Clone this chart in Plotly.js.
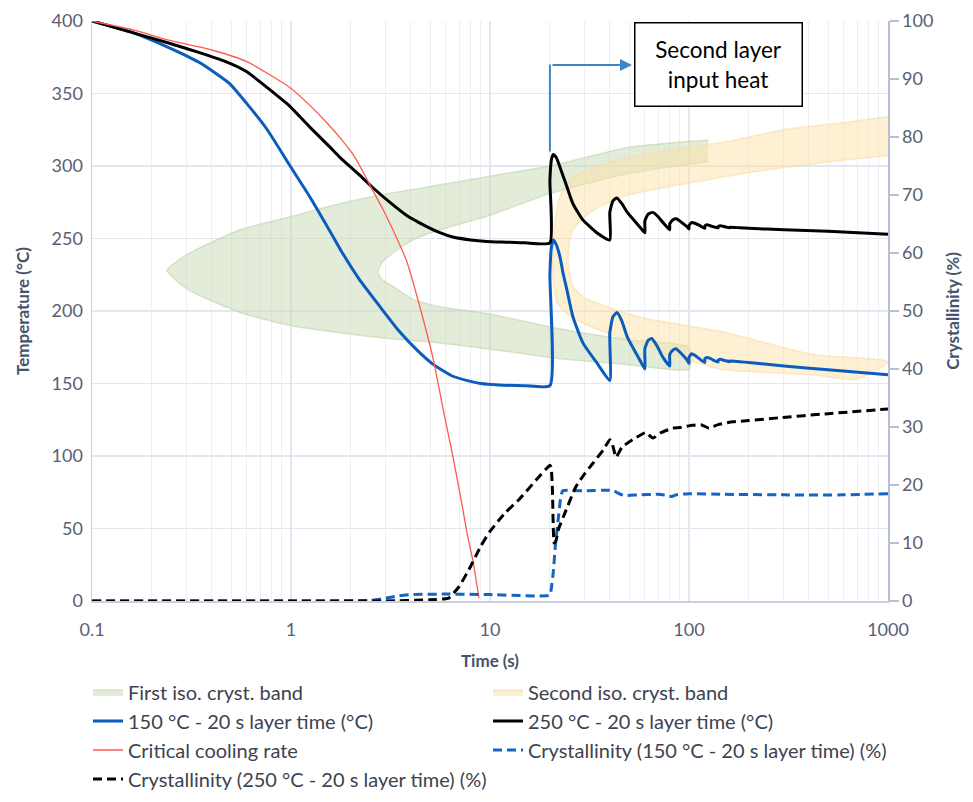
<!DOCTYPE html>
<html>
<head>
<meta charset="utf-8">
<script src="https://cdn.plot.ly/plotly-3.0.1.min.js"></script>
<style>
html,body{margin:0;padding:0;background:#fff;}
#chart{width:973px;height:802px;}
</style>
</head>
<body>
<div id="chart"></div>
<script>
// ---------- Data ----------
// Time (s)
const tTemp150 = [0.1,0.16,0.24,0.35,0.49,0.6,0.76,0.99,1.24,1.57,1.76,2.2,2.8,3.5,4.3,5.2,6.5,7.7,9,11,15,20,
  20,20.4,20.8,21.5,22.5,23.3,24.4,26.1,29.3,34.5,40,
  40,41.5,43.5,46,49,56.7,60,
  60,62.5,65,69,74,80,
  80,83,86,91,98,100,
  100,103,107,113,120,
  120,123,127,133,140,
  140,144,148,155,160,
  160,170,180,200,300,500,1000];
const temp150 = [400,392,382,371,357,343,325,300,279,255,243,222,203,186,173,163,155,152,150,149,148.5,148.5,
  225,245,249,246,237,226,214,196,178,164,152,
  185,196,199,193,182,166,160,
  174,180,181,176,168,162,
  170,173,174,171,166,164,
  168,170.5,169.5,167,164.5,
  167,168,167.5,166,164.8,
  166,166.8,166.2,165.5,165,
  165.6,165.3,165,164.5,162,159.5,156];

const tTemp250 = [0.1,0.16,0.24,0.35,0.49,0.6,0.76,0.99,1.24,1.57,1.76,2.2,2.58,3.2,3.8,4.4,5.6,6.5,8,9.6,12,15,20,
  20,20.4,20.8,21.5,22.5,24.3,26.1,29.2,34.4,40,
  40,41.5,43.4,46,49,56.6,60,
  60,62.5,65.8,70,74,80,
  80,83,87,92,98,100,
  100,103,107,113,120,
  120,123,127,133,140,
  140,144,148,155,160,
  160,170,180,200,300,500,1000];
const temp250 = [400,392,385,378,371,365,354,341,327,313,306,294,285,274,266,261,254,251,249,248,247.5,247,247,
  290,305,308,306,299,286,274,263,254,249,
  268,276,278,274,268,258,254,
  262,267,268,265,261,256,
  260,263,263.5,261,258,256.5,
  259,261,260.5,259,257,
  258.5,259.5,259,258,257.3,
  258.2,258.8,258.4,257.8,257.4,
  257.8,257.6,257.4,257,256,255,253];

const tCritical = [0.1,0.16,0.24,0.4,0.6,0.99,1.24,1.51,1.8,2.05,2.3,2.58,2.9,3.25,3.8,4.4,5.2,5.8,6.5,7.2,7.66,8.2,8.8];
const tempCritical = [400,394,387,380,372,354,342,330,318,308,296,283,270,256,235,205,166,133,100,68,47,28,2];

const tCryst150 = [0.1,1,2.5,3,3.5,4,6,10,20,20.3,20.8,21.3,22,22.6,23.2,30,40,42,44,47,55,70,78,82,86,100,150,300,600,1000];
const cryst150 = [0,0,0.1,0.5,0.9,1.1,1.2,1.1,1.0,2,5,9.5,14,17.5,19,19,19.1,19,18.6,18.2,18.3,18.4,18.2,18.0,18.3,18.5,18.4,18.3,18.3,18.5];

const tCryst250 = [0.1,1,3,5,6.2,7,8,9,10,11,12,14,17,20,20.3,20.6,21,21.5,22,24,27,30,33,37,40,41,43,46,52,61,63,66,72,83,90,104,115,126,140,166,200,285,500,1000];
const cryst250 = [0,0,0,0.2,0.5,2.5,6,9.5,12,13.8,15.3,17.5,20.8,23.4,23,19,10,10.5,12.2,15.5,19.7,22,23.8,26,27.8,27.3,24.8,26.5,27.8,29.1,28.6,28.1,29,29.8,29.9,30.3,30.4,29.8,30.4,30.9,31.1,31.6,32.3,33.1];

// First isothermal crystallisation band: outer edge (upper end -> nose -> lower end), inner edge (lower end -> nose -> upper end)
const band1OuterT = [125,100,50,20,10,5.6,3.1,1.76,0.99,0.555,0.31,0.26,0.238,0.26,0.31,0.555,0.99,1.76,3.1,5.6,11,20,50,100];
const band1OuterTemp = [318,317,313,300,293,287,281,274,265,256,240,233,228,222,214,199,190,185,181,178,173,168,163,160];
const band1InnerT = [100,50,20,10,5.6,4.1,3.25,2.85,2.74,2.85,3.25,4.1,5.6,10,20,50,125];
const band1InnerTemp = [175,180,189,198,203,208,217,222,227,233,240,249,256,266,281,295,303];

// Second isothermal crystallisation band
const band2OuterT = [1000,600,300,143,80,38.7,26.1,22.5,21.2,20.8,20.6,20.8,21.2,21.7,24.4,30,38.7,60,143,420,700];
const band2OuterTemp = [334,330,325,316,311,302,292,279,261,245,232,220,212,206,198,191,185,176,160,156,153];
const band2InnerT = [1000,420,143,60,38.7,30,26.1,25,24.7,25,26.1,31.8,46.6,143,300,600,1000];
const band2InnerTemp = [165,170,186,195,203,209,217,227,237,246,256,268,279,292,299,304,307];

// Tick labels
const xTickVals = [0.1,1,10,100,1000];
const xTickText = ['0.1','1','10','100','1000'];

// Legend names
const seriesNames = [
  'First iso. cryst. band',
  'Second iso. cryst. band',
  '150 °C - 20 s layer time (°C)',
  '250 °C - 20 s layer time (°C)',
  'Critical cooling rate',
  'Crystallinity (150 °C - 20 s layer time) (%)',
  'Crystallinity (250 °C - 20 s layer time) (%)'
];

// ---------- Traces ----------
const blue = '#0b5cbd';
const traces = [
  {x: band1OuterT.concat(band1InnerT), y: band1OuterTemp.concat(band1InnerTemp),
   type:'scatter', mode:'lines', fill:'toself', name:seriesNames[0],
   fillcolor:'rgba(199,217,179,0.5)', line:{color:'rgba(190,212,170,0.55)', width:1.5, shape:'spline', smoothing:0.6}},
  {x: band2OuterT.concat(band2InnerT), y: band2OuterTemp.concat(band2InnerTemp),
   type:'scatter', mode:'lines', fill:'toself', name:seriesNames[1],
   fillcolor:'rgba(252,226,168,0.5)', line:{color:'rgba(250,220,160,0.55)', width:1.5, shape:'spline', smoothing:0.6}},
  {x: tTemp150, y: temp150, type:'scatter', mode:'lines', name:seriesNames[2],
   line:{color:blue, width:3, shape:'spline', smoothing:0.5}},
  {x: tTemp250, y: temp250, type:'scatter', mode:'lines', name:seriesNames[3],
   line:{color:'#000000', width:3, shape:'spline', smoothing:0.5}},
  {x: tCritical, y: tempCritical, type:'scatter', mode:'lines', name:seriesNames[4],
   line:{color:'#ff5a4f', width:1.3, shape:'spline', smoothing:0.5}},
  {x: tCryst150, y: cryst150, type:'scatter', mode:'lines', name:seriesNames[5],
   yaxis:'y2', line:{color:'#1464c4', width:3, dash:'9px,5px', shape:'spline', smoothing:0.4}},
  {x: tCryst250, y: cryst250, type:'scatter', mode:'lines', name:seriesNames[6],
   yaxis:'y2', line:{color:'#000000', width:3, dash:'9px,5px', shape:'spline', smoothing:0.4}}
];

const fontFam = 'Lato, "Open Sans", sans-serif';
const tickCol = '#586074';
const titleCol = '#44546a';
const gridCol = '#e4e7f0';

const layout = {
  width:973, height:802,
  margin:{l:92, r:85, t:21, b:201},
  paper_bgcolor:'#ffffff', plot_bgcolor:'#ffffff',
  font:{family:fontFam, color:tickCol, size:18},
  showlegend:true,
  xaxis:{
    type:'log', range:[-1,3],
    tickvals:xTickVals, ticktext:xTickText,
    showgrid:true, gridcolor:gridCol, gridwidth:1.2,
    minor:{dtick:'D1', showgrid:true, gridcolor:'#edeff5', gridwidth:1},
    showline:true, linecolor:'#c9cfe0', linewidth:1.5,
    zeroline:false, ticks:'', ticklabelstandoff:12,
    tickfont:{size:18, color:tickCol},
    title:{text:'<b>Time (s)</b>', font:{size:17, color:titleCol}, standoff:16}
  },
  yaxis:{
    range:[0,400], dtick:50,
    showgrid:true, gridcolor:gridCol, gridwidth:1.2,
    showline:true, linecolor:'#c9cfe0', linewidth:1.5,
    zeroline:false, ticks:'', ticklabelstandoff:4,
    tickfont:{size:18, color:tickCol},
    title:{text:'<b>Temperature (°C)</b>', font:{size:17, color:titleCol}, standoff:17}
  },
  yaxis2:{
    overlaying:'y', side:'right', range:[0,100], dtick:10,
    showgrid:false, zeroline:false,
    showline:true, linecolor:'#b7bfd2', linewidth:1.5,
    ticks:'outside', ticklen:9, tickcolor:'#b7bfd2', tickwidth:1.5,
    tickfont:{size:18, color:tickCol},
    title:{text:'<b>Crystallinity (%)</b>', font:{size:17, color:titleCol}, standoff:14}
  },
  legend:{
    orientation:'h', xref:'container', x:88/973, xanchor:'left',
    yref:'container', y:1 - 672.5/802, yanchor:'top',
    entrywidth:355, entrywidthmode:'pixels',
    font:{size:20, color:'#3d4350', family:fontFam},
    traceorder:'normal', bgcolor:'rgba(0,0,0,0)'
  },
  shapes:[
    {type:'line', xref:'x', yref:'y', x0:20, x1:20, y0:310, y1:370,
     line:{color:'#3d85c6', width:2}}
  ],
  annotations:[
    {xref:'paper', yref:'paper', x:(632-92)/796, y:(601-65)/580,
     ax:-81, ay:0, text:'', showarrow:true, arrowhead:2, arrowsize:1.2, arrowwidth:2,
     arrowcolor:'#3d85c6', standoff:0, startstandoff:0},
    {xref:'paper', yref:'paper', x:(718.5-92)/796, y:(601-64.5)/580,
     xanchor:'center', yanchor:'middle', showarrow:false,
     text:'Second layer<br>input heat', align:'center',
     font:{size:22.5, color:'#000000', family:fontFam},
     bordercolor:'#000000', borderwidth:1.5, borderpad:0, bgcolor:'#ffffff',
     width:166, height:82}
  ]
};

Plotly.newPlot('chart', traces, layout, {displayModeBar:false, staticPlot:true});
</script>
</body>
</html>
